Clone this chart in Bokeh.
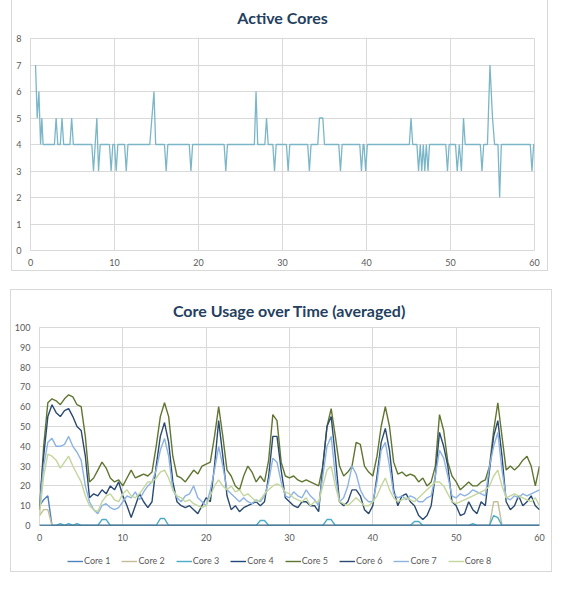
from bokeh.plotting import figure
from bokeh.models import Range1d, FixedTicker, Legend, LegendItem, InlineStyleSheet
from bokeh.embed import file_html
from bokeh.resources import INLINE

# ---------------- Active Cores (vertices of the sampled line) ----------------
active_t = [0.6, 0.8, 1.0, 1.2, 1.35, 1.5,
            2.85, 3.05, 3.25, 3.55, 3.75, 3.95, 4.7, 4.9, 5.1,
            7.3, 7.5, 7.9, 8.1, 8.3,
            9.4, 9.6, 9.8, 10.0, 10.2, 10.4, 11.2, 11.4, 11.6,
            14.2, 14.7, 14.9, 15.95, 16.15, 16.35, 18.9, 19.1, 19.3,
            23.05, 23.25, 23.45, 26.65, 26.85, 27.05, 27.9, 28.1, 28.3,
            28.85, 29.05, 29.25, 30.47, 30.67, 30.87, 33.0, 33.2, 33.4,
            34.2, 34.4, 34.8, 35.0, 36.7, 36.9, 37.1,
            39.2, 39.4, 39.6, 39.7, 39.9, 40.1,
            45.1, 45.3, 45.5,
            46.0, 46.2, 46.4, 46.58, 46.76, 46.94, 47.12, 47.32, 47.5,
            49.44, 49.64, 49.84,
            50.6, 50.8, 51.05, 51.3, 51.55, 51.75,
            53.55, 53.75, 53.95,
            54.4, 54.7, 55.0, 55.25, 55.65, 55.85, 56.05,
            59.5, 59.7, 59.9, 60.0]
active_v = [7, 5, 6, 4, 5, 4,
            4, 5, 4, 4, 5, 4, 4, 5, 4,
            4, 3, 5, 3, 4,
            4, 3, 4, 4, 3, 4, 4, 3, 4,
            4, 6, 4, 4, 3, 4, 4, 3, 4,
            4, 3, 4, 4, 6, 4, 4, 5, 4,
            4, 3, 4, 4, 3, 4, 4, 3, 4,
            4, 5, 5, 4, 4, 3, 4,
            4, 3, 4, 4, 3, 4,
            4, 5, 4,
            4, 3, 4, 3, 4, 3, 4, 3, 4,
            4, 3, 4,
            4, 3, 4, 3, 5, 4,
            4, 3, 4,
            4, 7, 5, 4, 4, 2, 4,
            4, 3, 4, 4]

# ---------------- Core usage (averaged) ----------------
usage_t = [0, 0.5, 1, 1.5, 2, 2.5, 3, 3.5, 4, 4.5,
           5, 5.5, 6, 6.5, 7, 7.5, 8, 8.5, 9, 9.5,
           10, 10.5, 11, 11.5, 12, 12.5, 13, 13.5, 14, 14.5,
           15, 15.5, 16, 16.5, 17, 17.5, 18, 18.5, 19, 19.5,
           20, 20.5, 21, 21.5, 22, 22.5, 23, 23.5, 24, 24.5,
           25, 25.5, 26, 26.5, 27, 27.5, 28, 28.5, 29, 29.5,
           30, 30.5, 31, 31.5, 32, 32.5, 33, 33.5, 34, 34.5,
           35, 35.5, 36, 36.5, 37, 37.5, 38, 38.5, 39, 39.5,
           40, 40.5, 41, 41.5, 42, 42.5, 43, 43.5, 44, 44.5,
           45, 45.5, 46, 46.5, 47, 47.5, 48, 48.5, 49, 49.5,
           50, 50.5, 51, 51.5, 52, 52.5, 53, 53.5, 54, 54.5,
           55, 55.5, 56, 56.5, 57, 57.5, 58, 58.5, 59, 59.5,
           60]

core1 = [10, 13, 15, 0, 0, 0, 0, 0, 0, 0,
         0, 0, 0, 0, 0, 0, 0, 0, 0, 0,
         0, 0, 0, 0, 0, 0, 0, 0, 0, 0,
         0, 0, 0, 0, 0, 0, 0, 0, 0, 0,
         0, 0, 0, 0, 0, 0, 0, 0, 0, 0,
         0, 0, 0, 0, 0, 0, 0, 0, 0, 0,
         0, 0, 0, 0, 0, 0, 0, 0, 0, 0,
         0, 0, 0, 0, 0, 0, 0, 0, 0, 0,
         0, 0, 0, 0, 0, 0, 0, 0, 0, 0,
         0, 0, 0, 0, 0, 0, 0, 0, 0, 0,
         0, 0, 0, 0, 0, 0, 0, 0, 0, 0,
         0, 0, 0, 0, 0, 0, 0, 0, 0, 0,
         0]
core2 = [5, 8, 8, 0, 0, 0, 0, 0, 0, 0,
         0, 0, 0, 0, 0, 0, 0, 0, 0, 0,
         0, 0, 0, 0, 0, 0, 0, 0, 0, 0,
         0, 0, 0, 0, 0, 0, 0, 0, 0, 0,
         0, 0, 0, 0, 0, 0, 0, 0, 0, 0,
         0, 0, 0, 0, 0, 0, 0, 0, 0, 0,
         0, 0, 0, 0, 0, 0, 0, 0, 0, 0,
         0, 0, 0, 0, 0, 0, 0, 0, 0, 0,
         0, 0, 0, 0, 0, 0, 0, 0, 0, 0,
         0, 0, 0, 0, 0, 0, 0, 0, 0, 0,
         0, 0, 0, 0, 0, 0, 0, 0, 0, 12,
         12, 0, 0, 0, 0, 0, 0, 0, 0, 0,
         0]
core3 = [0, 0, 0, 0, 0, 1, 0, 1, 0, 1,
         0, 0, 0, 0, 0, 3, 3, 0, 0, 0,
         0, 0, 0, 0, 0, 0, 0, 0, 0, 3.5,
         3.5, 0, 0, 0, 0, 0, 0, 0, 0, 0,
         0, 0, 0, 0, 0, 0, 0, 0, 0, 0,
         0, 0, 0, 2.5, 2.5, 0, 0, 0, 0, 0,
         0, 0, 0, 0, 0, 0, 0, 0, 0, 3,
         3, 0, 0, 0, 0, 0, 0, 0, 0, 0,
         0, 0, 0, 0, 0, 0, 0, 0, 0, 0,
         2, 2, 0, 0, 0, 0, 0, 0, 0, 0,
         0, 0, 0, 0, 1, 0, 0, 0, 0, 5,
         4, 0, 0, 0, 0, 0, 0, 0, 0, 0,
         0]
core4 = [0, 0, 0, 0, 0, 0, 0, 0, 0, 0,
         0, 0, 0, 0, 0, 0, 0, 0, 0, 0,
         0, 0, 0, 0, 0, 0, 0, 0, 0, 0,
         0, 0, 0, 0, 0, 0, 0, 0, 0, 0,
         0, 0, 0, 0, 0, 0, 0, 0, 0, 0,
         0, 0, 0, 0, 0, 0, 0, 0, 0, 0,
         0, 0, 0, 0, 0, 0, 0, 0, 0, 0,
         0, 0, 0, 0, 0, 0, 0, 0, 0, 0,
         0, 0, 0, 0, 0, 0, 0, 0, 0, 0,
         0, 0, 0, 0, 0, 0, 0, 0, 0, 0,
         0, 0, 0, 0, 0, 0, 0, 0, 0, 0,
         0, 0, 0, 0, 0, 0, 0, 0, 0, 0,
         0]
core5 = [8, 40, 62, 64, 63, 61, 64, 66, 65, 61,
         60, 45, 22, 24, 28, 32, 29, 24, 22, 23,
         20, 24, 28, 24, 25, 26, 25, 27, 40, 55,
         62, 55, 35, 25, 24, 22, 25, 28, 26, 30,
         31, 32, 45, 60, 45, 28, 25, 20, 18, 25,
         30, 27, 22, 25, 22, 33, 56, 53, 32, 25,
         24, 25, 23, 22, 23, 22, 21, 20, 30, 50,
         59, 45, 30, 25, 27, 30, 42, 41, 30, 27,
         25, 35, 50, 60, 50, 32, 26, 27, 25, 26,
         25, 22, 24, 20, 22, 30, 56, 48, 32, 25,
         22, 18, 20, 22, 20, 20, 22, 23, 30, 48,
         62, 45, 28, 30, 28, 30, 33, 35, 30, 20,
         30]
core6 = [10, 35, 55, 61, 57, 55, 58, 59, 55, 50,
         48, 35, 14, 16, 15, 18, 16, 20, 18, 22,
         15, 10, 4, 10, 16, 12, 9, 12, 30, 45,
         52, 42, 22, 12, 10, 9, 10, 8, 6, 10,
         14, 12, 30, 53, 35, 15, 8, 10, 7, 9,
         10, 11, 12, 10, 12, 25, 45, 45, 28, 14,
         12, 10, 9, 12, 12, 10, 10, 7, 30, 50,
         55, 35, 12, 10, 12, 18, 18, 15, 8, 6,
         10, 25, 42, 49, 38, 18, 10, 15, 16, 12,
         10, 5, 3, 5, 10, 25, 47, 40, 30, 12,
         10, 5, 6, 12, 8, 6, 12, 10, 28, 45,
         53, 35, 12, 8, 10, 15, 10, 12, 15, 10,
         8]
core7 = [10, 30, 42, 44, 40, 40, 41, 45, 40, 37,
         33, 20, 12, 8, 6, 10, 11, 9, 8, 9,
         12, 15, 14, 17, 13, 17, 20, 22, 28, 38,
         44, 35, 18, 14, 12, 15, 16, 20, 14, 12,
         10, 18, 28, 40, 30, 18, 16, 14, 12, 14,
         12, 11, 13, 12, 15, 22, 34, 32, 22, 15,
         14, 17, 15, 14, 18, 15, 13, 10, 25, 40,
         45, 25, 12, 14, 20, 30, 26, 18, 14, 12,
         12, 22, 38, 42, 30, 16, 14, 15, 13, 15,
         14, 12, 12, 14, 15, 25, 38, 34, 25, 15,
         14, 16, 15, 16, 18, 17, 16, 15, 30, 40,
         47, 28, 14, 13, 15, 14, 16, 15, 16, 17,
         18]
core8 = [5, 25, 36, 35, 33, 29, 32, 35, 30, 26,
         22, 15, 10, 8, 7, 12, 15, 16, 13, 12,
         16, 18, 15, 14, 16, 19, 22, 22, 24, 27,
         28, 24, 18, 15, 14, 12, 13, 11, 10, 9,
         10, 15, 20, 23, 20, 18, 20, 17, 18, 15,
         16, 14, 12, 13, 16, 18, 20, 21, 20, 17,
         16, 14, 13, 12, 14, 10, 12, 12, 20, 28,
         30, 20, 12, 11, 10, 12, 14, 12, 10, 10,
         12, 15, 20, 24, 18, 14, 12, 13, 14, 13,
         12, 14, 16, 18, 20, 22, 22, 20, 16, 12,
         11, 12, 13, 14, 15, 16, 17, 18, 20, 25,
         28, 20, 14, 15, 16, 15, 14, 13, 12, 14,
         10]

core_names = ["Core 1", "Core 2", "Core 3", "Core 4",
              "Core 5", "Core 6", "Core 7", "Core 8"]
core_series = [core1, core2, core3, core4, core5, core6, core7, core8]
core_colors = ["#4f81bd", "#c4bd97", "#4bacc6", "#1f497d",
               "#5f7530", "#2a4a70", "#8db3e2", "#c3d69b"]

x_ticks = [0, 10, 20, 30, 40, 50, 60]
y1_ticks = [0, 1, 2, 3, 4, 5, 6, 7, 8]
y2_ticks = [0, 10, 20, 30, 40, 50, 60, 70, 80, 90, 100]

GRID = "#d9d9d9"
TICK = "#595959"
TITLE = "#243f60"
FONT = "Lato"

border_full = InlineStyleSheet(css=":host { border: 1px solid #d9d9d9; }")
border_top = InlineStyleSheet(
    css=":host { border: 1px solid #d9d9d9; border-bottom: none; }")
border_bottom = InlineStyleSheet(
    css=":host { border: 1px solid #d9d9d9; border-top: none; }")


def style(p, yt, standoff):
    p.title.align = "center"
    p.title.text_font = FONT
    p.title.text_font_size = "16px"
    p.title.text_font_style = "bold"
    p.title.text_color = TITLE
    p.title.standoff = standoff
    p.xaxis.ticker = FixedTicker(ticks=x_ticks)
    p.yaxis.ticker = FixedTicker(ticks=yt)
    for ax in (p.xaxis, p.yaxis):
        ax.axis_line_color = None
        ax.major_tick_line_color = None
        ax.minor_tick_line_color = None
        ax.major_tick_out = 0
        ax.major_tick_in = 0
        ax.major_label_text_font = FONT
        ax.major_label_text_font_size = "9px"
        ax.major_label_text_color = TICK
    p.xaxis.major_label_standoff = 8
    p.yaxis.major_label_standoff = 9
    p.xgrid.grid_line_color = GRID
    p.ygrid.grid_line_color = GRID
    p.outline_line_color = GRID
    p.background_fill_color = "white"
    p.border_fill_color = "white"


# ----- chart 1 (its top edge is cut off by the page top, as in the reference) -----
p1 = figure(width=537, height=280, title="Active Cores",
            x_range=Range1d(0, 60), y_range=Range1d(0, 8),
            output_backend="svg", toolbar_location=None,
            min_border_left=18, min_border_right=15,
            min_border_top=46, min_border_bottom=22)
style(p1, y1_ticks, 24)
p1.stylesheets = [border_full]
p1.margin = (-9, 0, 0, 11)
p1.line(active_t, active_v, line_color="#7ab6c8", line_width=1.3)

# ----- chart 2 (plot part) -----
p2 = figure(width=542, height=256, title="Core Usage over Time (averaged)",
            x_range=Range1d(0, 60), y_range=Range1d(0, 100),
            output_backend="svg", toolbar_location=None,
            min_border_left=28, min_border_right=14,
            min_border_top=37, min_border_bottom=21)
style(p2, y2_ticks, 15)
p2.stylesheets = [border_top]
p2.margin = (18, 0, 0, 10)

for vals, col in zip(core_series, core_colors):
    p2.line(usage_t, vals, line_color=col, line_width=1.4)

# ----- chart 2 (legend strip, same chart area) -----
p3 = figure(width=542, height=27, x_range=Range1d(-200, -199),
            y_range=Range1d(-200, -199),
            output_backend="svg", toolbar_location=None,
            x_axis_location=None, y_axis_location=None,
            min_border=0, min_border_left=0, min_border_right=0,
            min_border_top=0, min_border_bottom=0)
p3.grid.visible = False
p3.outline_line_color = None
p3.background_fill_color = "white"
p3.border_fill_color = "white"
p3.stylesheets = [border_bottom]
p3.margin = (0, 0, 0, 10)

items = []
for name, vals, col in zip(core_names, core_series, core_colors):
    # legend keys: same series, out of this strip's (empty) view range
    key = p3.line(usage_t, vals, line_color=col, line_width=1.4)
    items.append(LegendItem(label=name, renderers=[key]))

legend = Legend(items=items, orientation="horizontal", location=(56, 6),
                label_text_font=FONT, label_text_font_size="9px",
                label_text_color=TICK, glyph_width=16, glyph_height=10,
                label_height=10, label_standoff=1, spacing=11, padding=0,
                margin=0, border_line_color=None, background_fill_alpha=0)
p3.add_layout(legend)

open("out.html", "w").write(file_html([p1, p2, p3], INLINE))
